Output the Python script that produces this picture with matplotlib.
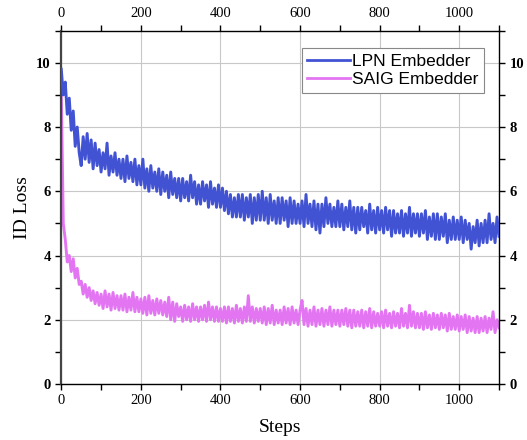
import matplotlib
matplotlib.use("Agg")
import matplotlib.pyplot as plt
from matplotlib.ticker import MultipleLocator
import numpy as np

# loss every 5 steps (high / low swings of the noisy band)
steps = np.arange(0, 1101, 5)

lpn = [
    9.8, 9.0, 9.4, 8.4, 8.9, 7.9, 8.5, 7.4, 8.0, 7.2,
    6.8, 7.7, 7.0, 7.8, 6.9, 7.6, 6.7, 7.5, 6.8, 7.3,
    6.6, 7.2, 6.7, 7.5, 6.5, 7.1, 6.6, 7.2, 6.5, 7.0,
    6.4, 7.0, 6.3, 7.1, 6.4, 6.9, 6.3, 7.0, 6.2, 6.8,
    6.2, 7.0, 6.1, 6.7, 6.0, 6.8, 6.1, 6.6, 6.0, 6.7,
    5.9, 6.6, 6.0, 6.5, 5.8, 6.6, 5.9, 6.4, 5.8, 6.4,
    5.7, 6.4, 5.8, 6.3, 5.7, 6.5, 5.8, 6.3, 5.6, 6.2,
    5.6, 6.3, 5.7, 6.2, 5.5, 6.3, 5.6, 6.1, 5.5, 6.2,
    5.5, 6.1, 5.4, 6.0, 5.3, 5.9, 5.2, 5.8, 5.2, 5.9,
    5.2, 5.9, 5.1, 5.8, 5.2, 5.9, 5.0, 5.8, 5.1, 5.9,
    5.1, 6.0, 5.1, 5.8, 5.0, 5.9, 5.1, 5.7, 5.0, 5.8,
    5.0, 5.8, 5.1, 5.7, 4.9, 5.8, 5.0, 5.7, 5.0, 5.6,
    5.0, 5.7, 4.9, 5.9, 5.0, 5.6, 4.9, 5.7, 4.8, 5.6,
    4.7, 5.6, 4.9, 5.8, 5.0, 5.6, 4.9, 5.5, 4.9, 5.7,
    4.9, 5.6, 4.8, 5.5, 4.9, 5.7, 4.8, 5.5, 4.7, 5.5,
    4.8, 5.5, 4.9, 5.4, 4.7, 5.6, 4.8, 5.4, 4.7, 5.5,
    4.8, 5.4, 4.7, 5.5, 4.8, 5.4, 4.6, 5.4, 4.7, 5.3,
    4.7, 5.4, 4.6, 5.3, 4.7, 5.5, 4.6, 5.3, 4.7, 5.3,
    4.6, 5.3, 4.7, 5.4, 4.5, 5.2, 4.6, 5.3, 4.5, 5.3,
    4.5, 5.2, 4.6, 5.3, 4.4, 5.1, 4.5, 5.2, 4.5, 5.1,
    4.5, 5.2, 4.4, 5.1, 4.5, 5.0, 4.2, 4.9, 4.4, 5.1,
    4.3, 5.0, 4.4, 5.1, 4.4, 5.3, 4.5, 5.0, 4.4, 5.2,
    4.6,
]

saig = [
    9.1, 5.0, 4.5, 3.8, 4.0, 3.5, 3.9, 3.3, 3.6, 3.1,
    3.2, 2.8, 3.1, 2.7, 3.0, 2.6, 2.9, 2.5, 2.85, 2.45,
    2.8, 2.35, 2.9, 2.4, 2.8, 2.3, 2.85, 2.35, 2.75, 2.3,
    2.75, 2.3, 2.8, 2.25, 2.7, 2.3, 2.85, 2.25, 2.7, 2.25,
    2.65, 2.2, 2.7, 2.15, 2.75, 2.2, 2.6, 2.15, 2.65, 2.2,
    2.6, 2.15, 2.55, 2.1, 2.7, 2.0, 2.55, 1.95, 2.5, 2.1,
    2.4, 1.95, 2.45, 2.0, 2.4, 1.95, 2.5, 2.0, 2.4, 1.95,
    2.4, 2.0, 2.45, 1.95, 2.55, 2.0, 2.4, 1.95, 2.4, 1.95,
    2.35, 1.95, 2.4, 1.9, 2.4, 1.95, 2.35, 1.9, 2.45, 1.95,
    2.35, 1.9, 2.4, 1.95, 2.75, 1.95, 2.4, 1.9, 2.35, 1.95,
    2.35, 1.9, 2.4, 1.85, 2.35, 1.9, 2.45, 1.85, 2.3, 1.9,
    2.3, 1.85, 2.4, 1.9, 2.35, 1.85, 2.4, 1.9, 2.3, 1.85,
    2.3, 2.6, 1.85, 2.35, 1.8, 2.3, 1.85, 2.4, 1.8, 2.3,
    1.85, 2.35, 1.8, 2.3, 1.85, 2.4, 1.8, 2.3, 1.85, 2.3,
    1.8, 2.3, 1.85, 2.35, 1.8, 2.3, 1.75, 2.3, 1.8, 2.25,
    1.8, 2.3, 1.75, 2.25, 1.8, 2.35, 1.75, 2.25, 1.8, 2.2,
    1.8, 2.25, 1.75, 2.3, 1.8, 2.2, 1.75, 2.25, 1.8, 2.2,
    1.75, 2.35, 1.8, 2.2, 1.75, 2.45, 1.8, 2.25, 1.75, 2.2,
    1.75, 2.2, 1.7, 2.25, 1.75, 2.15, 1.7, 2.2, 1.75, 2.15,
    1.7, 2.2, 1.75, 2.15, 1.65, 2.2, 1.7, 2.1, 1.7, 2.15,
    1.65, 2.1, 1.7, 2.15, 1.6, 2.1, 1.65, 2.05, 1.6, 2.1,
    1.6, 2.05, 1.65, 2.1, 1.6, 2.05, 1.7, 2.25, 1.6, 2.0,
    1.75,
]

serif = "Liberation Serif"

fig = plt.figure(figsize=(5.27, 4.4), dpi=100)
ax = fig.add_axes([0.1163, 0.1273, 0.8306, 0.8029])

ax.plot(steps, lpn, color="#4152d3", lw=2.1, label="LPN Embedder", zorder=3)
ax.plot(steps, saig, color="#e375f3", lw=2.1, label="SAIG Embedder", zorder=2)

ax.set_xlim(0, 1100)
ax.set_ylim(0, 11)
ax.xaxis.set_major_locator(MultipleLocator(200))
ax.xaxis.set_minor_locator(MultipleLocator(100))
ax.yaxis.set_major_locator(MultipleLocator(2))
ax.yaxis.set_minor_locator(MultipleLocator(1))

ax.grid(True, which="major", color="#c8c8c8", lw=0.8)
ax.set_axisbelow(True)

ax.tick_params(which="both", direction="out", length=4, width=1,
               top=True, right=True, labeltop=True, labelright=True,
               labelsize=10.5)
for t in ax.xaxis.get_major_ticks():
    t.label1.set_fontfamily(serif)
    t.label2.set_fontfamily(serif)
for t in ax.yaxis.get_major_ticks():
    for lab in (t.label1, t.label2):
        lab.set_fontfamily(serif)
        lab.set_fontweight("bold")

for side in ["top", "right", "bottom"]:
    ax.spines[side].set_linewidth(1.0)
    ax.spines[side].set_color("black")
ax.spines["left"].set_linewidth(1.6)
ax.spines["left"].set_color("#444444")

ax.set_xlabel("Steps", fontfamily=serif, fontsize=14, labelpad=8)
ax.set_ylabel("ID Loss", fontfamily=serif, fontsize=14, labelpad=4)

leg = ax.legend(loc="upper right", bbox_to_anchor=(0.965, 0.95),
                prop={"family": "Liberation Sans", "size": 12.5},
                fancybox=False, framealpha=1, edgecolor="#888888",
                handlelength=2.5, handletextpad=0.1, borderpad=0.3,
                labelspacing=0.2, borderaxespad=0)
leg.get_frame().set_linewidth(0.8)
for line in leg.get_lines():
    line.set_linewidth(2.0)

fig.savefig("out.png", dpi=100)
